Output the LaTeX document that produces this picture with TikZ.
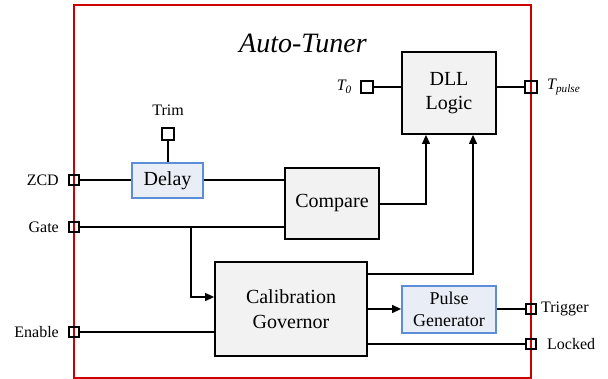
\documentclass[tikz,border=0pt]{standalone}
\usepackage{fontspec}
\setmainfont{Liberation Serif}
\usetikzlibrary{arrows.meta}
\definecolor{frame}{HTML}{CC0000}
\definecolor{boxfill}{HTML}{F2F2F2}
\definecolor{bluefill}{HTML}{E9EEF6}
\definecolor{blueline}{HTML}{5B8ED6}
\begin{document}
\begin{tikzpicture}[x=1pt,y=-1pt,
  blk/.style={draw=black,line width=1.8pt,fill=boxfill,align=center,inner sep=0pt,font=\fontsize{20}{22}\selectfont},
  bblk/.style={draw=blueline,line width=1.8pt,fill=bluefill,align=center,inner sep=0pt,font=\fontsize{20}{22}\selectfont},
  port/.style={draw=black,line width=1.1pt,minimum size=10pt,inner sep=0pt},
  tport/.style={draw=black,line width=2.4pt,minimum size=12pt,inner sep=0pt,fill=white},
  wire/.style={line width=1.2pt},
  twire/.style={line width=2.6pt},
  arr/.style={wire,-{Triangle[length=9pt,width=8pt]}},
  lbl/.style={font=\fontsize{16}{18}\selectfont,inner sep=0pt}
]
\useasboundingbox (0,0) rectangle (608,379);
\draw[frame,line width=1.6pt] (74,5) rectangle (531,378);

\node[font=\fontsize{28}{30}\selectfont\itshape] (title) at (303,43) {Auto-Tuner};

% blocks
\node[blk,minimum width=94pt,minimum height=82pt] (dll) at (449,93) {DLL\\[2pt]Logic};
\node[blk,minimum width=94pt,minimum height=71pt] (cmp) at (332,203.5) {Compare};
\node[bblk,minimum width=71pt,minimum height=35pt] (dly) at (167.5,180.5) {Delay};
\node[blk,minimum width=152pt,minimum height=94pt] (cal) at (291,309) {Calibration\\[3pt]Governor};
\node[bblk,minimum width=94pt,minimum height=47pt,font=\fontsize{18}{20}\selectfont] (pg) at (449,309.5) {Pulse\\[2pt]Generator};

% ports
\node[port] (zcd) at (74,180) {};
\node[port] (gate) at (74,227) {};
\node[port] (en) at (74,332) {};
\node[port] (trig) at (531,309) {};
\node[port] (lock) at (531,344) {};
\node[tport] (t0) at (367,87) {};
\node[tport,fill=none] (tp) at (531,87) {};
\node[tport] (trim) at (168,134) {};

% labels
\node[lbl,anchor=east] (lzcd) at (59,180) {ZCD};
\node[lbl,anchor=east] (lgate) at (59,227) {Gate};
\node[lbl,anchor=east] (len) at (59,332) {Enable};
\node[lbl,anchor=west] (ltrig) at (541,309) {Trigger};
\node[lbl,anchor=west] (llock) at (547,344) {Locked};
\node[lbl] (ltrim) at (168,110) {Trim};
\node[lbl,anchor=east] (lt0) at (352,87) {\textit{T\textsubscript{0}}};
\node[lbl,anchor=west] (ltp) at (547,87) {\textit{T\textsubscript{pulse}}};

% wires
\draw[twire] (t0.east) -- (t0.east -| dll.west);
\draw[twire] (dll.east |- tp.west) -- (tp.west);
\draw[twire] (trim.south) -- (trim.south |- dly.north);
\draw[wire] (zcd.east) -- (zcd.east -| dly.west);
\draw[wire] (dly.east |- zcd.east) -- (zcd.east -| cmp.west);
\draw[wire] (gate.east) -- (gate.east -| cmp.west);
\coordinate (gb) at (191,227);
\draw[arr] (gb) -- (191,297) -- (191,297 -| cal.west);
\coordinate (c1) at (426,204);
\draw[arr] (c1 -| cmp.east) -- (c1) -- (c1 |- dll.south);
\coordinate (c2) at (473,274);
\draw[arr] (c2 -| cal.east) -- (c2) -- (c2 |- dll.south);
\draw[arr] (trig.west -| cal.east) -- (trig.west -| pg.west);
\draw[wire] (pg.east |- trig.west) -- (trig.west);
\draw[wire] (lock.west -| cal.east) -- (lock.west);
\draw[wire] (en.east) -- (en.east -| cal.west);
\end{tikzpicture}
\end{document}
